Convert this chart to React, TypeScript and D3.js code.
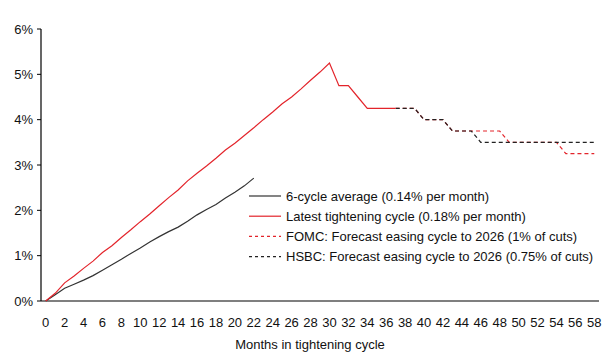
import React from "react";
import * as d3 from "d3";

const months = d3.range(0, 59);
const xTickLabels = d3.range(0, 59, 2);
const yTicks = [0, 1, 2, 3, 4, 5, 6];

const avgValues = [0, 0.14, 0.28, 0.37, 0.46, 0.56, 0.68, 0.8, 0.92, 1.05, 1.17, 1.3, 1.42, 1.53, 1.63, 1.76, 1.9, 2.02, 2.13, 2.27, 2.4, 2.54, 2.71];
const latestValues = [0, 0.17, 0.4, 0.55, 0.72, 0.88, 1.07, 1.22, 1.4, 1.57, 1.75, 1.92, 2.1, 2.28, 2.45, 2.65, 2.82, 2.98, 3.15, 3.33, 3.48, 3.65, 3.82, 4.0, 4.17, 4.35, 4.5, 4.68, 4.87, 5.05, 5.25, 4.75, 4.75, 4.5, 4.25, 4.25, 4.25, 4.25];
const forecastStart = 37;
const fomcValues = [4.25, 4.25, 4.25, 4.0, 4.0, 4.0, 3.75, 3.75, 3.75, 3.75, 3.75, 3.75, 3.5, 3.5, 3.5, 3.5, 3.5, 3.5, 3.25, 3.25, 3.25, 3.25];
const hsbcValues = [4.25, 4.25, 4.25, 4.0, 4.0, 4.0, 3.75, 3.75, 3.75, 3.5, 3.5, 3.5, 3.5, 3.5, 3.5, 3.5, 3.5, 3.5, 3.5, 3.5, 3.5, 3.5];

const legendItems = [
  { label: "6-cycle average (0.14% per month)", color: "#333333", dash: "" },
  { label: "Latest tightening cycle (0.18% per month)", color: "#e3242b", dash: "" },
  { label: "FOMC: Forecast easing cycle to 2026 (1% of cuts)", color: "#e3242b", dash: "3,3" },
  { label: "HSBC: Forecast easing cycle to 2026 (0.75% of cuts)", color: "#222222", dash: "3,3" },
];

const FONT = "'Liberation Sans Narrow', 'Arial Narrow', 'Liberation Sans', Arial, sans-serif";

export default function App() {
  const W = 609, H = 355;
  const left = 41, right = 599, top = 29, bottom = 301;
  const band = d3.scaleBand<number>().domain(months).range([left, right]).padding(0);
  const x = (m: number) => (band(m) as number) + band.bandwidth() / 2;
  const y = d3.scaleLinear().domain([0, 6]).range([bottom, top]);
  const line = d3.line<[number, number]>().x(d => x(d[0])).y(d => y(d[1]));

  const avgPts = avgValues.map((v, i) => [i, v] as [number, number]);
  const latestPts = latestValues.map((v, i) => [i, v] as [number, number]);
  const fomcPts = fomcValues.map((v, i) => [forecastStart + i, v] as [number, number]);
  const hsbcPts = hsbcValues.map((v, i) => [forecastStart + i, v] as [number, number]);

  return (
    <svg width={W} height={H} style={{ position: "absolute", left: 0, top: 0, background: "#fff" }} fontFamily={FONT}>
      <rect width={W} height={H} fill="#fff" />
      {/* y axis */}
      <line x1={left} x2={left} y1={top} y2={bottom} stroke="#000" strokeWidth={1.2} />
      {yTicks.map(t => (
        <g key={t}>
          <line x1={left - 4} x2={left} y1={y(t)} y2={y(t)} stroke="#000" strokeWidth={1} />
          <text x={left - 8} y={y(t)} dy="0.35em" textAnchor="end" fontSize={13} fill="#111">{t}%</text>
        </g>
      ))}
      {/* x axis */}
      <line x1={left} x2={right} y1={bottom} y2={bottom} stroke="#000" strokeWidth={1.2} />
      {xTickLabels.map(t => (
        <text key={t} x={x(t)} y={bottom + 21} dy="0.35em" textAnchor="middle" fontSize={13} fill="#111">{t}</text>
      ))}
      <text x={310} y={344} dy="0.35em" textAnchor="middle" fontSize={13} fill="#111">Months in tightening cycle</text>

      {/* series */}
      <path d={line(fomcPts) || ""} fill="none" stroke="#e3242b" strokeWidth={1.2} strokeDasharray="4,3" />
      <path d={line(hsbcPts) || ""} fill="none" stroke="#222" strokeWidth={1.2} strokeDasharray="4,3" />
      <path d={line(avgPts) || ""} fill="none" stroke="#333" strokeWidth={1.2} />
      <path d={line(latestPts) || ""} fill="none" stroke="#e3242b" strokeWidth={1.2} />

      {/* legend */}
      {legendItems.map((it, i) => {
        const ly = 196 + i * 20.2;
        return (
          <g key={it.label}>
            <line x1={249} x2={281} y1={ly} y2={ly} stroke={it.color} strokeWidth={1.2} strokeDasharray={it.dash || undefined} />
            <text x={286} y={ly} dy="0.35em" fontSize={13} fill="#111">{it.label}</text>
          </g>
        );
      })}
    </svg>
  );
}
